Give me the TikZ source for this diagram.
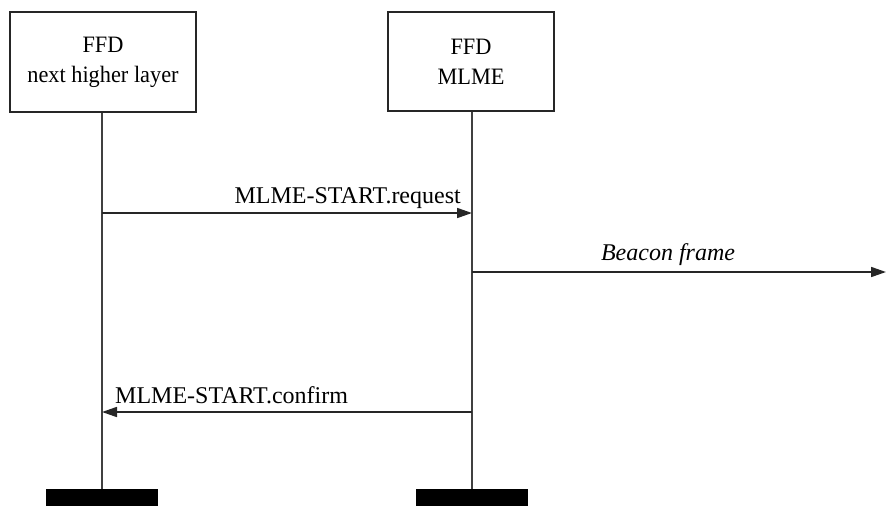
\documentclass[tikz,border=0pt]{standalone}
\usepackage{fontspec}
\setmainfont{Liberation Serif}
\newfontfamily\condfont[FakeStretch=0.95]{Liberation Serif}
\usetikzlibrary{arrows.meta}
\begin{document}
\begin{tikzpicture}[x=1pt,y=-1pt,
  entity/.style={draw=black!85,line width=1.8pt,fill=white,inner sep=0pt,align=center,
    font=\condfont\fontsize{23.5}{30}\selectfont},
  lifeline/.style={draw=black!75,line width=1.7pt},
  endbar/.style={fill=black,draw=none,minimum width=112pt,minimum height=17pt,inner sep=0pt},
  msg/.style={draw=black!85,line width=1.7pt,-{Triangle[length=15pt,width=10pt]}},
  lbl/.style={font=\fontsize{24}{28}\selectfont,inner sep=0pt},
]
\useasboundingbox (0,0) rectangle (886,506);
\node[entity,minimum width=186pt,minimum height=100pt] (hl) at (103,62) {FFD\\next higher layer};
\node[entity,minimum width=166pt,minimum height=99pt] (ml) at (471,61.5) {FFD\\MLME};
\node[endbar,anchor=north] (hlend) at (102,489) {};
\node[endbar,anchor=north] (mlend) at (472,489) {};
\draw[lifeline] (hl.south -| hlend.north) -- (hlend.north);
\draw[lifeline] (ml.south -| mlend.north) -- (mlend.north);
\coordinate (reqA) at (hlend.north |- 0,213);
\coordinate (reqB) at (mlend.north |- 0,213);
\coordinate (bcnA) at (mlend.north |- 0,272);
\coordinate (bcnB) at (886,272);
\coordinate (cnfA) at (mlend.north |- 0,412);
\coordinate (cnfB) at (hlend.north |- 0,412);
\draw[msg] (reqA) -- (reqB);
\draw[msg] (bcnA) -- (bcnB);
\draw[msg] (cnfA) -- (cnfB);
\node[lbl,anchor=base east] (reqL) at (461,203) {MLME-START.request};
\node[lbl,anchor=base] (bcnL) at (668,260) {\itshape Beacon frame};
\node[lbl,anchor=base west] (cnfL) at (115,403) {MLME-START.confirm};
\end{tikzpicture}
\end{document}
